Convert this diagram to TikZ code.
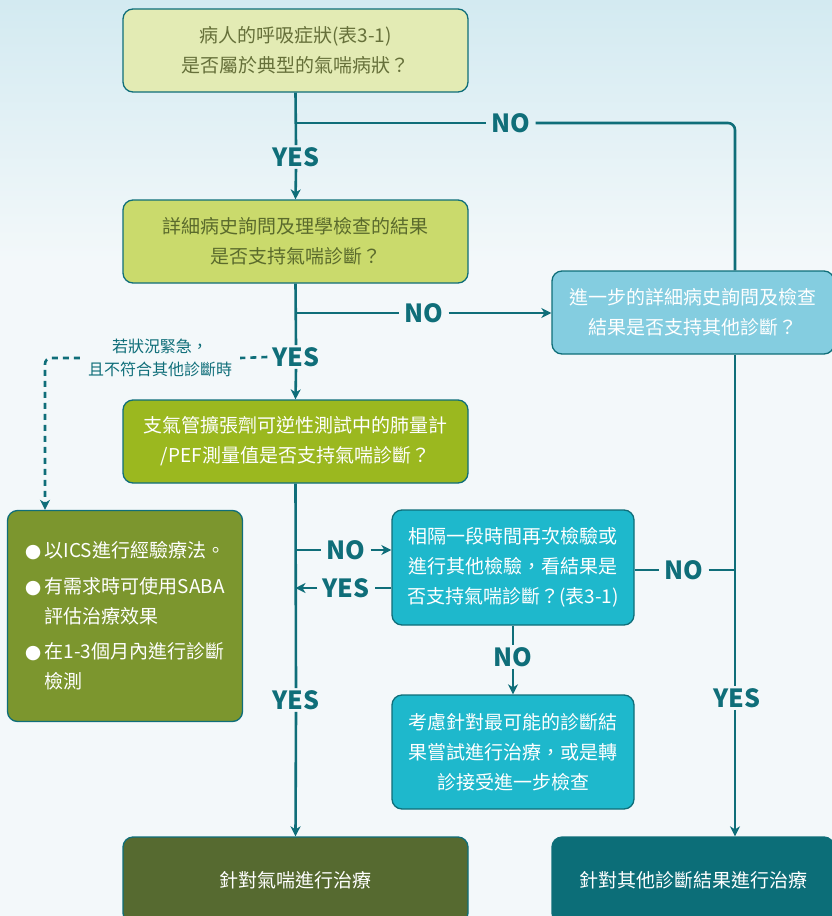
\documentclass[tikz,border=0pt]{standalone}
\usepackage{fontspec}
\setmainfont{Noto Sans CJK TC}
\newfontfamily\symfont{DejaVu Sans}
\usetikzlibrary{arrows.meta}
\usetikzlibrary{positioning}

\definecolor{linecol}{HTML}{0F6E79}
\definecolor{bgtop}{HTML}{D3EAF1}
\definecolor{bgbot}{HTML}{F3F8FA}
\definecolor{qonefill}{HTML}{E3EBB4}
\definecolor{qonetext}{HTML}{66703A}
\definecolor{qtwofill}{HTML}{CADA6C}
\definecolor{qtwotext}{HTML}{5A6A2C}
\definecolor{qthreefill}{HTML}{9BB81F}
\definecolor{altfill}{HTML}{84CDE0}
\definecolor{icsfill}{HTML}{7C962E}
\definecolor{retestfill}{HTML}{1EB8CC}
\definecolor{treatafill}{HTML}{566A30}
\definecolor{treatbfill}{HTML}{0C6E78}

\tikzset{
  box/.style={draw=linecol, line width=1.3pt, rounded corners=10pt, align=center,
    inner sep=0pt, minimum width=345pt, minimum height=83pt,
    font=\fontsize{19}{30}\selectfont, text=white},
  conn/.style={draw=linecol, line width=2.6pt},
  arr/.style={conn, -{Stealth[length=10pt,width=10pt,inset=3pt]}},
  dashconn/.style={conn, dash pattern=on 6pt off 5pt},
  lbl/.style={text=linecol, font=\bfseries\fontsize{25}{25}\selectfont,
    inner xsep=5pt, inner ysep=2pt},
  dtxt/.style={text=linecol, align=center, font=\fontsize{16}{23}\selectfont,
    inner xsep=8pt},
}

\newcommand{\bul}{\makebox[20pt][l]{\symfont\fontsize{19}{19}\selectfont ●}}

\begin{document}
\begin{tikzpicture}[x=1pt,y=-1pt]
        % background
        \useasboundingbox (0,0) rectangle (832,916);
        \shade[top color=bgtop,bottom color=bgbot] (0,0) rectangle (832,260);
        \fill[bgbot] (0,259) rectangle (832,916);

        % the boxes
        \node[box,fill=qonefill,text=qonetext] (q1) at (295.5,50.5)
                {病人的呼吸症狀(表3-1)\\是否屬於典型的氣喘病狀？};
        \node[box,fill=qtwofill,text=qtwotext] (q2) at (295.5,241.5)
                {詳細病史詢問及理學檢查的結果\\是否支持氣喘診斷？};
        \node[box,fill=qthreefill] (q3) at (295.5,441.5)
                {支氣管擴張劑可逆性測試中的肺量計\\/PEF測量值是否支持氣喘診斷？};
        \node[box,fill=altfill,minimum width=282pt] (alt) at (693,312.5)
                {進一步的詳細病史詢問及檢查\\結果是否支持其他診斷？};
        \node[box,fill=icsfill,minimum width=235pt,minimum height=211pt,align=left] (ics) at (125,616)
                {\bul 以ICS進行經驗療法。\\[6pt]
                 \bul 有需求時可使用SABA\\
                 \hspace*{20pt}評估治療效果\\[5pt]
                 \bul 在1-3個月內進行診斷\\
                 \hspace*{20pt}檢測};
        \node[box,fill=retestfill,minimum width=242pt,minimum height=115pt] (retest) at (513,567.5)
                {相隔一段時間再次檢驗或\\進行其他檢驗，看結果是\\否支持氣喘診斷？(表3-1)};
        \node[box,fill=retestfill,minimum width=242pt,minimum height=114pt] (consider) at (513,752)
                {考慮針對最可能的診斷結\\果嘗試進行治療，或是轉\\診接受進一步檢查};
        \node[box,fill=treatafill,minimum height=86pt] (treatA) at (295.5,880) {針對氣喘進行治療};
        \node[box,fill=treatbfill,minimum width=282pt,minimum height=86pt] (treatB) at (693,880)
                {針對其他診斷結果進行治療};

        % x of the right trunk and of the dashed line
        \coordinate (rx) at (735,0);
        \coordinate (dx) at (45,0);

        % first question
        \node[lbl] (yes1) at (296,157) {YES};
        \node[lbl] (no1) at (511,123) {NO};
        \draw[conn] (q1.south) -- (yes1.north);
        \draw[arr] (yes1.south) -- (q2.north);
        \draw[conn] (q1.south |- no1) -- (no1.west);
        \draw[conn,rounded corners=7pt] (no1.east) -| (alt.north -| rx);

        % second question
        \node[lbl] (yes2) at (296,357) {YES};
        \node[lbl] (no2) at (424,313) {NO};
        \draw[conn] (q2.south) -- (yes2.north);
        \draw[arr] (yes2.south) -- (q3.north);
        \draw[conn] (q2.south |- no2) -- (no2.west);
        \draw[arr] (no2.east) -- (alt.west |- no2);

        % urgent case
        \node[dtxt] (urgent) at (160,358) {若狀況緊急，\\且不符合其他診斷時};
        \draw[dashconn] (yes2.west) -- (urgent.east);
        \draw[dashconn,rounded corners=6pt,-{Stealth[length=10pt,width=10pt,inset=3pt]}]
                (urgent.west) -| (ics.north -| dx);

        % third question
        \node[lbl] (yes3) at (296,700) {YES};
        \node[lbl] (no3) at (346,550) {NO};
        \node[lbl] (yes4) at (346,588) {YES};
        \draw[conn] (q3.south) -- (yes3.north);
        \draw[arr] (yes3.south) -- (treatA.north);
        \draw[conn] (q3.south |- no3) -- (no3.west);
        \draw[arr] (no3.east) -- (retest.west |- no3);
        \draw[conn] (retest.west |- yes4) -- (yes4.east);
        \draw[arr] (yes4.west) -- (q3.south |- yes4);

        % retest
        \node[lbl] (no4) at (684,570) {NO};
        \node[lbl] (no5) at (513,657) {NO};
        \draw[conn] (retest.east |- no4) -- (no4.west);
        \draw[conn] (no4.east) -- (no4 -| rx);
        \draw[conn] (retest.south) -- (no5.north);
        \draw[arr] (no5.south) -- (consider.north);

        % right trunk
        \node[lbl] (yes5) at (737,698) {YES};
        \draw[conn] (alt.south -| rx) -- (yes5.north -| rx);
        \draw[arr] (yes5.south -| rx) -- (treatB.north -| rx);
\end{tikzpicture}
\end{document}
